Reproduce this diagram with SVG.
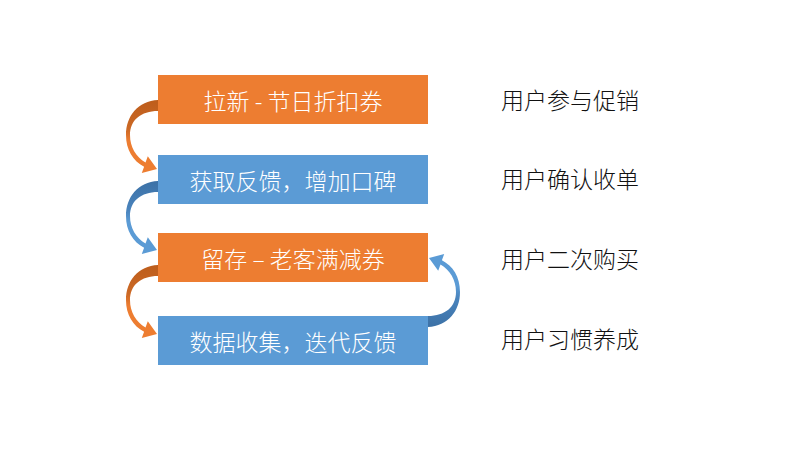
<svg xmlns="http://www.w3.org/2000/svg" xmlns:xlink="http://www.w3.org/1999/xlink" width="800" height="449" viewBox="0 0 800 449">
  <style>
    .orange { fill: #ED7D31; }
    .blue { fill: #5B9BD5; }
    .box-text { font-family: "Noto Sans CJK SC", "Noto Sans", sans-serif; font-size: 23px; font-weight: 300; fill: #FFFFFF; text-anchor: middle; dominant-baseline: central; }
    .label { font-family: "Noto Sans CJK SC", "Noto Sans", sans-serif; font-size: 23px; font-weight: 300; fill: #111111; text-anchor: start; dominant-baseline: central; }
    .arrow-o { fill: url(#gradO); }
    .arrow-b { fill: url(#gradB); }
  </style>
  <defs>
    <linearGradient id="gradO" x1="0" y1="0" x2="0" y2="1">
      <stop offset="0" stop-color="#BD5D1C"/>
      <stop offset="0.4" stop-color="#CC6925"/>
      <stop offset="0.56" stop-color="#ED7D31"/>
      <stop offset="1" stop-color="#ED7D31"/>
    </linearGradient>
    <linearGradient id="gradB" x1="0" y1="0" x2="0" y2="1">
      <stop offset="0" stop-color="#3C71A6"/>
      <stop offset="0.4" stop-color="#4A84BD"/>
      <stop offset="0.56" stop-color="#5B9BD5"/>
      <stop offset="1" stop-color="#5B9BD5"/>
    </linearGradient>
    <path id="curved" d="M0,0 C-20,1 -32,16 -32,35 C-32,50 -25,61 -13.9,66.7 L-16.2,73 L-1,69 L-10.2,56.2 L-12.5,62.5 C-22,57 -28,47 -28,35 C-28,20 -17,11 0,11 Z"/>
  </defs>

  <rect width="800" height="449" fill="#FFFFFF"/>

  <g id="connectors">
    <use xlink:href="#curved" class="arrow-o" transform="translate(158,100)"/>
    <use xlink:href="#curved" class="arrow-b" transform="translate(158,181)"/>
    <use xlink:href="#curved" class="arrow-o" transform="translate(158,265)"/>
    <use xlink:href="#curved" class="arrow-b" transform="translate(428,327) rotate(180)"/>
  </g>

  <g id="node-1">
    <rect class="orange" x="158" y="75" width="270" height="49"/>
    <text class="box-text" x="293" y="99.5">拉新 - 节日折扣券</text>
  </g>
  <g id="node-2">
    <rect class="blue" x="158" y="155" width="270" height="49"/>
    <text class="box-text" x="293" y="179.5">获取反馈，增加口碑</text>
  </g>
  <g id="node-3">
    <rect class="orange" x="158" y="233" width="270" height="49"/>
    <text class="box-text" x="293" y="257.5">留存 – 老客满减券</text>
  </g>
  <g id="node-4">
    <rect class="blue" x="158" y="316" width="270" height="49"/>
    <text class="box-text" x="293" y="340.5">数据收集，迭代反馈</text>
  </g>

  <g id="label-1"><text class="label" x="501" y="99">用户参与促销</text></g>
  <g id="label-2"><text class="label" x="501" y="178">用户确认收单</text></g>
  <g id="label-3"><text class="label" x="501" y="258">用户二次购买</text></g>
  <g id="label-4"><text class="label" x="501" y="338">用户习惯养成</text></g>
</svg>
